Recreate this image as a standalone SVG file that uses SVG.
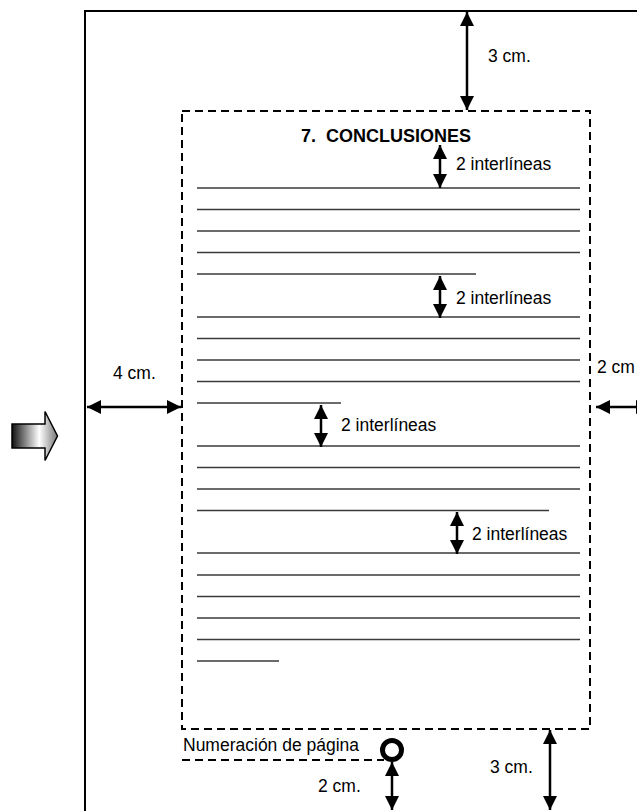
<svg xmlns="http://www.w3.org/2000/svg" width="637" height="811" viewBox="0 0 637 811">
  <style>
    .lbl { font-family: "Liberation Sans", Arial, sans-serif; font-size: 17.5px; fill: #000; }
    .ttl { font-family: "Liberation Sans", Arial, sans-serif; font-size: 18px; font-weight: bold; fill: #000; }
    .dim { stroke: #000; stroke-width: 2.5; fill: none; marker-start: url(#tip); marker-end: url(#tip); }
    .rule { stroke: #3a3a3a; stroke-width: 1.5; }
    .dash { stroke: #000; stroke-width: 2; fill: none; stroke-dasharray: 8 5; }
  </style>
  <defs>
    <marker id="tip" viewBox="0 0 10 10" refX="10" refY="5" markerUnits="userSpaceOnUse" markerWidth="14" markerHeight="14" orient="auto-start-reverse">
      <path d="M0,0 L10,5 L0,10 Z" fill="#000"/>
    </marker>
    <linearGradient id="shade" x1="0" y1="0" x2="1" y2="0">
      <stop offset="0" stop-color="#111"/>
      <stop offset="0.6" stop-color="#fff"/>
      <stop offset="1" stop-color="#777"/>
    </linearGradient>
  </defs>

  <rect width="637" height="811" fill="#fff"/>

  <!-- page edge (continues past the right and bottom edges) -->
  <g id="page">
    <path d="M85,820 L85,11 L650,11" fill="none" stroke="#000" stroke-width="2"/>
  </g>

  <!-- text area -->
  <g id="text-area">
    <rect x="182" y="111" width="408" height="618" class="dash"/>
  </g>

  <g id="title">
    <text x="386" y="142" class="ttl" text-anchor="middle" xml:space="preserve">7.  CONCLUSIONES</text>
  </g>

  <!-- written lines -->
  <g id="rules">
    <line x1="197" y1="188" x2="580" y2="188" class="rule"/>
    <line x1="197" y1="209.5" x2="580" y2="209.5" class="rule"/>
    <line x1="197" y1="231" x2="580" y2="231" class="rule"/>
    <line x1="197" y1="252.5" x2="580" y2="252.5" class="rule"/>
    <line x1="197" y1="274" x2="476" y2="274" class="rule"/>

    <line x1="197" y1="317" x2="580" y2="317" class="rule"/>
    <line x1="197" y1="338.5" x2="580" y2="338.5" class="rule"/>
    <line x1="197" y1="360" x2="580" y2="360" class="rule"/>
    <line x1="197" y1="381.5" x2="580" y2="381.5" class="rule"/>
    <line x1="197" y1="403" x2="341" y2="403" class="rule"/>

    <line x1="197" y1="446" x2="580" y2="446" class="rule"/>
    <line x1="197" y1="467.5" x2="580" y2="467.5" class="rule"/>
    <line x1="197" y1="489" x2="580" y2="489" class="rule"/>
    <line x1="197" y1="510.5" x2="549" y2="510.5" class="rule"/>

    <line x1="197" y1="553" x2="580" y2="553" class="rule"/>
    <line x1="197" y1="575" x2="580" y2="575" class="rule"/>
    <line x1="197" y1="596.5" x2="580" y2="596.5" class="rule"/>
    <line x1="197" y1="618" x2="580" y2="618" class="rule"/>
    <line x1="197" y1="639.5" x2="580" y2="639.5" class="rule"/>
    <line x1="197" y1="661" x2="279" y2="661" class="rule"/>
  </g>

  <!-- page number marker -->
  <g id="page-number">
    <text x="183" y="751" class="lbl">Numeración de página</text>
    <line x1="182" y1="760" x2="384" y2="760" class="dash"/>
    <circle cx="392" cy="750" r="9.5" fill="none" stroke="#000" stroke-width="5"/>
  </g>

  <!-- direction arrow -->
  <g id="pointer">
    <path d="M12,424 L45,424 L45,411.5 L57.5,436 L45,460.5 L45,448 L12,448 Z" fill="url(#shade)" stroke="#000" stroke-width="1.5" stroke-linejoin="miter"/>
  </g>

  <!-- measurements -->
  <g id="connectors">
    <line x1="467" y1="12" x2="467" y2="110" class="dim"/>
    <line x1="87" y1="407" x2="181" y2="407" class="dim"/>
    <line x1="596" y1="407" x2="650" y2="407" class="dim"/>
    <line x1="550" y1="730" x2="550" y2="810" class="dim"/>
    <line x1="392" y1="762" x2="392" y2="810" class="dim"/>
    <line x1="440" y1="145" x2="440" y2="188" class="dim"/>
    <line x1="440" y1="276" x2="440" y2="318" class="dim"/>
    <line x1="321" y1="405" x2="321" y2="447" class="dim"/>
    <line x1="457" y1="512" x2="457" y2="554" class="dim"/>
  </g>

  <g id="labels">
    <text x="488" y="62" class="lbl">3 cm.</text>
    <text x="456" y="169.5" class="lbl">2 interlíneas</text>
    <text x="456" y="304" class="lbl">2 interlíneas</text>
    <text x="341" y="431" class="lbl">2 interlíneas</text>
    <text x="472" y="540" class="lbl">2 interlíneas</text>
    <text x="113" y="379" class="lbl">4 cm.</text>
    <text x="597" y="373" class="lbl">2 cm</text>
    <text x="490" y="773" class="lbl">3 cm.</text>
    <text x="318" y="792" class="lbl">2 cm.</text>
  </g>
</svg>
